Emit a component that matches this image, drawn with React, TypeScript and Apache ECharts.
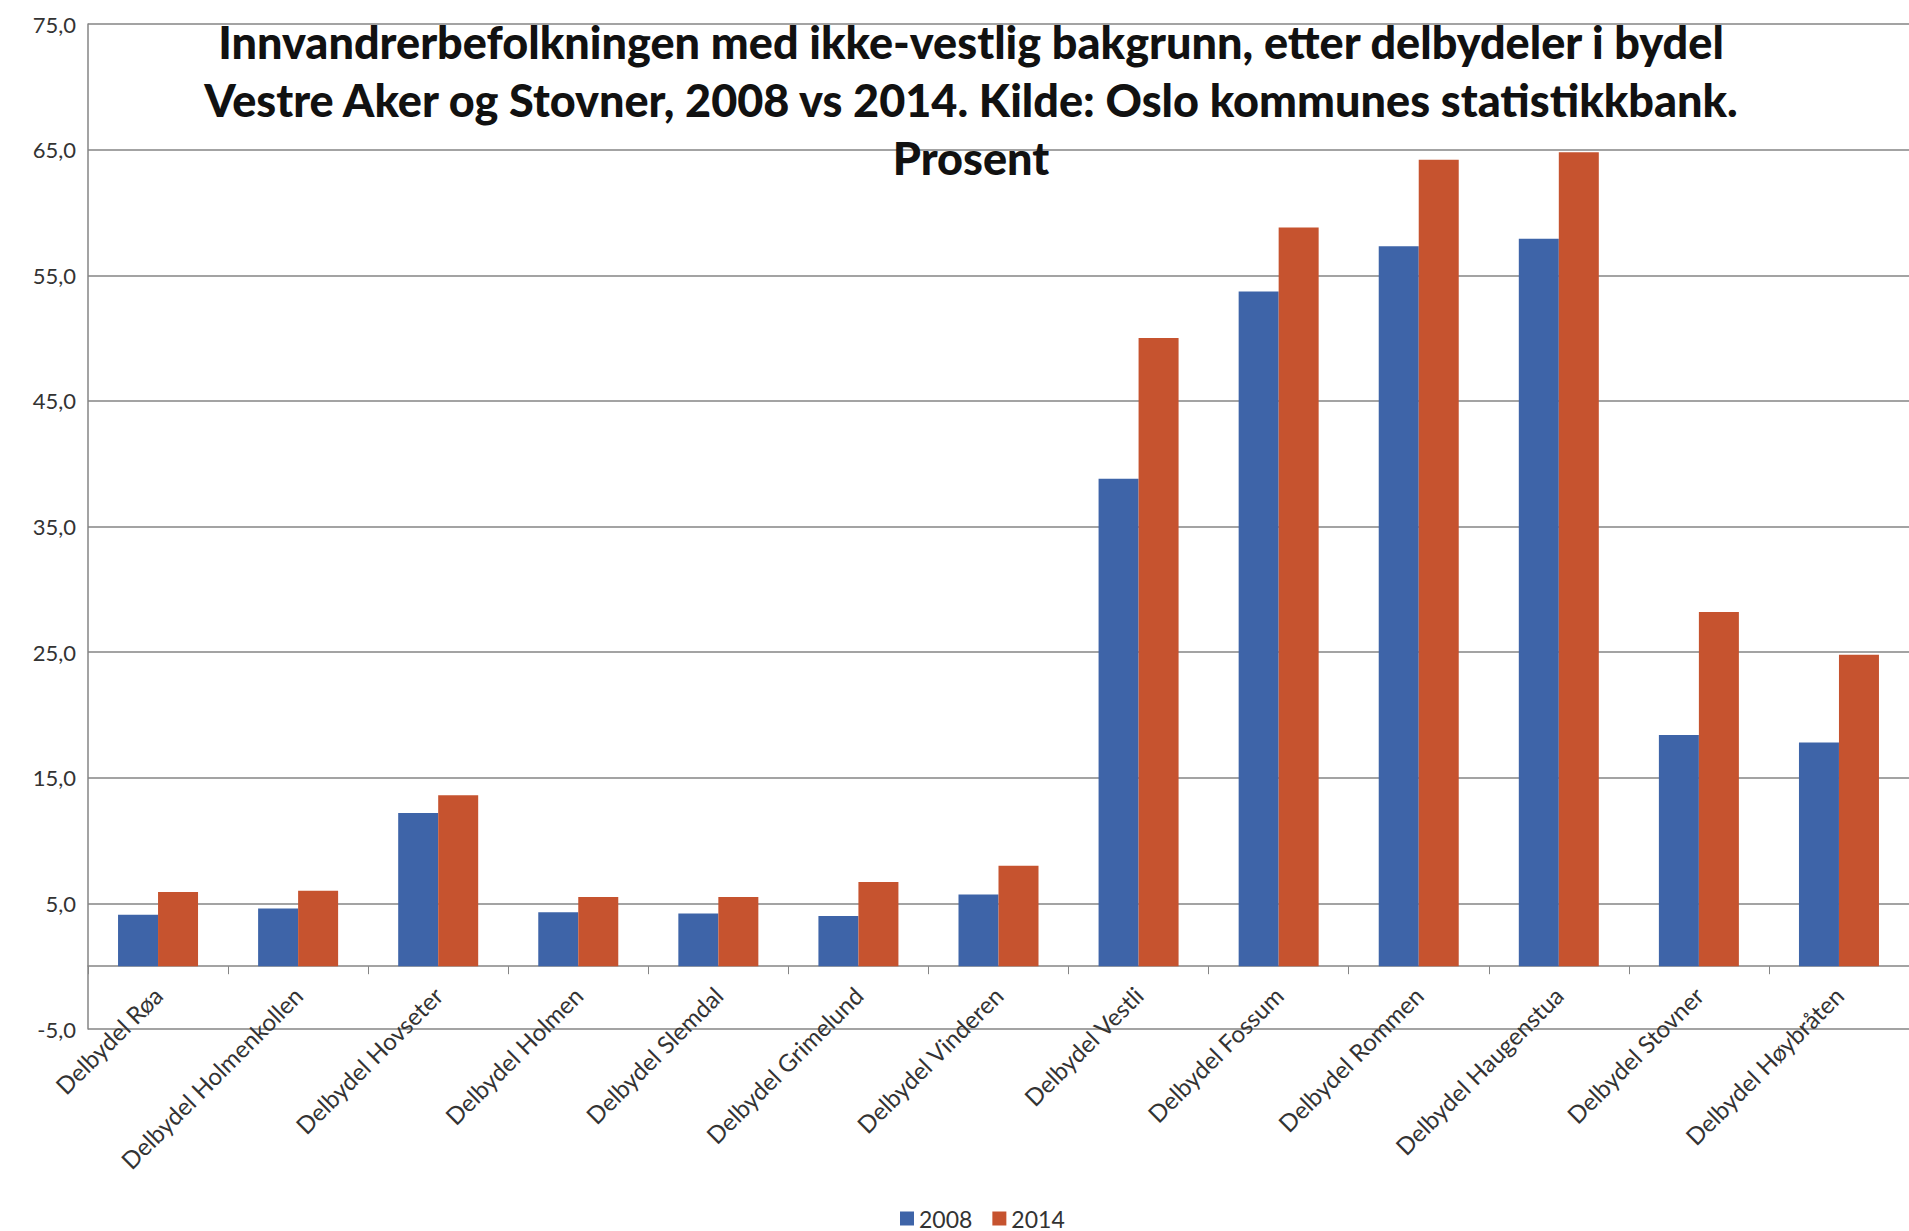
import React, { useEffect, useRef } from "react";
import * as echarts from "echarts";

const categories = [
  "Delbydel Røa",
  "Delbydel Holmenkollen",
  "Delbydel Hovseter",
  "Delbydel Holmen",
  "Delbydel Slemdal",
  "Delbydel Grimelund",
  "Delbydel Vinderen",
  "Delbydel Vestli",
  "Delbydel Fossum",
  "Delbydel Rommen",
  "Delbydel Haugenstua",
  "Delbydel Stovner",
  "Delbydel Høybråten",
];
const values2008 = [4.1, 4.6, 12.2, 4.3, 4.2, 4.0, 5.7, 38.8, 53.7, 57.3, 57.9, 18.4, 17.8];
const values2014 = [5.9, 6.0, 13.6, 5.5, 5.5, 6.7, 8.0, 50.0, 58.8, 64.2, 64.8, 28.2, 24.8];
const yTickLabels = ["-5,0", "5,0", "15,0", "25,0", "35,0", "45,0", "55,0", "65,0", "75,0"];
const seriesNames = ["2008", "2014"];
const titleLines = [
  "Innvandrerbefolkningen med ikke-vestlig bakgrunn, etter delbydeler i bydel",
  "Vestre Aker og Stovner, 2008 vs 2014. Kilde: Oslo kommunes statistikkbank.",
  "Prosent",
];

const FONT = "Lato, 'Open Sans', sans-serif";
const GRID_COLOR = "#858585";
const TEXT_COLOR = "#333333";

export default function App() {
  const ref = useRef<HTMLDivElement>(null);
  useEffect(() => {
    if (!ref.current) return;
    const chart = echarts.init(ref.current, null, { renderer: "svg" });
    chart.setOption({
      animation: false,
      backgroundColor: "#ffffff",
      textStyle: { fontFamily: FONT },
      graphic: [
        {
          type: "text",
          x: 971,
          y: 13,
          z: 100,
          style: {
            text: titleLines.join("\n"),
            align: "center",
            verticalAlign: "top",
            fontFamily: FONT,
            fontWeight: 900,
            fontSize: 45,
            lineHeight: 58,
            fill: "#111111",
          },
        },
      ],
      legend: {
        data: seriesNames,
        left: 895,
        top: 1202,
        icon: "rect",
        itemWidth: 14,
        itemHeight: 14,
        itemGap: 20,
        textStyle: { fontFamily: FONT, fontSize: 23, color: TEXT_COLOR },
      },
      grid: { left: 88, right: -11, top: 24, height: 1005, containLabel: false },
      xAxis: {
        type: "category",
        data: categories,
        axisLine: { onZero: true, onZeroAxisIndex: 0, lineStyle: { color: GRID_COLOR, width: 1.5 } },
        axisTick: { show: true, interval: 0, length: 8, lineStyle: { color: GRID_COLOR } },
        axisLabel: {
          interval: 0,
          rotate: 45,
          margin: -38,
          fontFamily: FONT,
          fontSize: 24,
          color: TEXT_COLOR,
        },
      },
      yAxis: [
        {
          type: "value",
          min: -5,
          max: 75,
          axisLabel: { show: false },
          axisLine: { show: false },
          axisTick: { show: false },
          splitLine: { show: false },
        },
        {
          type: "value",
          min: 0,
          max: 80,
          interval: 10,
          position: "left",
          axisLabel: {
            formatter: (_v: number, i: number) => yTickLabels[i],
            fontFamily: FONT,
            fontSize: 22,
            color: TEXT_COLOR,
            margin: 12,
          },
          axisLine: { show: true, lineStyle: { color: GRID_COLOR, width: 1.5 } },
          axisTick: { show: false },
          splitLine: { show: true, lineStyle: { color: GRID_COLOR, width: 1.5 } },
        },
      ],
      series: [
        {
          name: seriesNames[0],
          type: "bar",
          yAxisIndex: 0,
          data: values2008,
          barWidth: 40,
          barGap: "0%",
          itemStyle: { color: "#3e64a8" },
        },
        {
          name: seriesNames[1],
          type: "bar",
          yAxisIndex: 0,
          data: values2014,
          barWidth: 40,
          barGap: "0%",
          itemStyle: { color: "#c6532f" },
        },
      ],
    });
    return () => chart.dispose();
  }, []);
  return (
    <div
      ref={ref}
      style={{ position: "absolute", left: 0, top: 0, width: 1909, height: 1231 }}
    />
  );
}
